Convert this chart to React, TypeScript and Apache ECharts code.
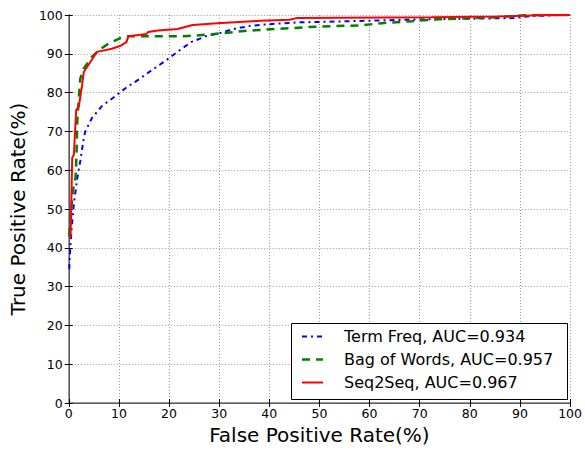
import React, { useEffect, useRef } from "react";
import * as echarts from "echarts";

const seriesNames = ["Term Freq, AUC=0.934", "Bag of Words, AUC=0.957", "Seq2Seq, AUC=0.967"];
const seriesColors = ["#0000ff", "#008000", "#ff0000"];
const seriesDash: (number[] | "solid")[] = [[5, 4, 2, 4], [8, 6], "solid"];
const seriesWidth = [2, 2.5, 2];

const termFreqFpr = [0.1, 0.3, 0.55, 1.0, 1.7, 2.3, 3.0, 3.3, 4.6, 6.6, 9.2, 11.5, 14.2, 16.8, 19.4, 22.1, 24.4, 27.3, 30.3, 32.9, 36.2, 39.5, 46, 59.2, 71, 88.8, 92, 98.7, 100];
const termFreqTpr = [34.5, 40, 44.5, 51.2, 58, 62.4, 68.3, 70, 73.4, 76.5, 79, 81.3, 83.6, 86, 88.3, 90.9, 93.0, 94.5, 95.4, 96.4, 97.2, 97.6, 98.1, 98.5, 98.9, 99.2, 99.7, 100, 100];

const bowFpr = [0.1, 0.16, 0.8, 1.35, 1.55, 1.7, 2.0, 2.3, 3.0, 4.6, 6.0, 7.9, 10.2, 11.9, 23, 28.3, 32.9, 36.2, 41.5, 49.3, 57.9, 62.5, 68.4, 73.7, 85, 92, 100];
const bowTpr = [43, 44.5, 54.7, 58, 64, 72.6, 78.5, 83.6, 86.2, 89.2, 90.9, 92.6, 94.0, 94.5, 94.5, 95.0, 95.6, 96.0, 96.4, 97.0, 97.3, 97.9, 98.4, 98.9, 99.4, 100, 100];

const s2sFpr = [0, 0.36, 0.69, 1.02, 1.48, 2.0, 2.66, 2.99, 4.3, 5.6, 8.6, 10.2, 11.5, 11.9, 15.5, 15.8, 17.8, 21.7, 24.7, 29.6, 38.2, 44, 45.4, 72.3, 85.5, 95.4, 100];
const s2sTpr = [42.7, 42.7, 63.2, 64.0, 75.5, 76.4, 81.9, 85.3, 87.9, 90.5, 91.3, 92.0, 93.0, 94.5, 95.1, 95.6, 96.0, 96.4, 97.4, 97.9, 98.5, 98.8, 99.2, 99.4, 99.6, 100, 100];

const xName = "False Positive Rate(%)";
const yName = "True Positive Rate(%)";

const zip = (xs: number[], ys: number[]) => xs.map((x, i) => [x, ys[i]]);
const seriesData = [zip(termFreqFpr, termFreqTpr), zip(bowFpr, bowTpr), zip(s2sFpr, s2sTpr)];

const FONT = "DejaVu Sans";

export default function App() {
  const ref = useRef<HTMLDivElement>(null);
  useEffect(() => {
    if (!ref.current) return;
    const chart = echarts.init(ref.current, undefined, { renderer: "svg" });
    const axisCommon = {
      type: "value" as const,
      min: 0,
      max: 100,
      interval: 10,
    };
    const legendX = 291.5;
    const legendY = 323.5;
    const rowH = 23;
    const legendItems: any[] = [
      {
        type: "rect",
        shape: { x: legendX, y: legendY, width: 276, height: 76 },
        style: { fill: "#fff", stroke: "#000", lineWidth: 1 },
        z: 100,
      },
    ];
    seriesNames.forEach((name, i) => {
      const cy = legendY + 13 + i * rowH;
      legendItems.push({
        type: "line",
        shape: { x1: 302, y1: cy, x2: 323, y2: cy },
        style: {
          stroke: seriesColors[i],
          lineWidth: seriesWidth[i],
          lineDash: seriesDash[i] === "solid" ? null : seriesDash[i],
        },
        z: 101,
      });
      legendItems.push({
        type: "text",
        x: 344,
        y: cy,
        style: {
          text: name,
          fill: "#000",
          font: `16px '${FONT}'`,
          verticalAlign: "middle",
          align: "left",
        },
        z: 101,
      });
    });
    chart.setOption({
      animation: false,
      backgroundColor: "#fff",
      grid: { left: 66, right: 12, top: 15, bottom: 43, containLabel: false },
      xAxis: [
        {
          ...axisCommon,
          position: "bottom",
          name: xName,
          nameLocation: "middle",
          nameGap: 22,
          nameTextStyle: { fontFamily: FONT, fontSize: 20, color: "#000" },
          axisLine: { show: true, lineStyle: { color: "#000", width: 1 } },
          axisTick: { show: true, inside: true, length: 4, lineStyle: { color: "#000" } },
          axisLabel: { fontFamily: FONT, fontSize: 12.5, color: "#000", margin: 4 },
          splitLine: { show: true, lineStyle: { color: "#999", width: 1, type: [1, 2] } },
        },
        {
          ...axisCommon,
          position: "top",
          axisLine: { show: true, lineStyle: { color: "#777", width: 1.5 } },
          axisTick: { show: true, inside: true, length: 4, lineStyle: { color: "#000" } },
          axisLabel: { show: false },
          splitLine: { show: false },
        },
      ],
      yAxis: [
        {
          ...axisCommon,
          position: "left",
          name: yName,
          nameLocation: "middle",
          nameGap: 34,
          nameTextStyle: { fontFamily: FONT, fontSize: 20, color: "#000" },
          axisLine: { show: true, lineStyle: { color: "#000", width: 1 } },
          axisTick: { show: true, inside: true, length: 4, lineStyle: { color: "#000" } },
          axisLabel: { fontFamily: FONT, fontSize: 12.5, color: "#000", margin: 6 },
          splitLine: { show: true, lineStyle: { color: "#999", width: 1, type: [1, 2] } },
        },
        {
          ...axisCommon,
          position: "right",
          axisLine: { show: true, lineStyle: { color: "#777", width: 1.5 } },
          axisTick: { show: true, inside: true, length: 4, lineStyle: { color: "#000" } },
          axisLabel: { show: false },
          splitLine: { show: false },
        },
      ],
      series: seriesNames.map((name, i) => ({
        name,
        type: "line",
        xAxisIndex: 0,
        yAxisIndex: 0,
        data: seriesData[i],
        showSymbol: false,
        symbol: "none",
        clip: true,
        lineStyle: {
          color: seriesColors[i],
          width: seriesWidth[i],
          type: seriesDash[i],
        },
        z: 3 + i,
      })),
      graphic: legendItems,
    });
    return () => chart.dispose();
  }, []);
  return (
    <div
      ref={ref}
      style={{ position: "fixed", left: 0, top: 0, width: 585, height: 450 }}
    />
  );
}
